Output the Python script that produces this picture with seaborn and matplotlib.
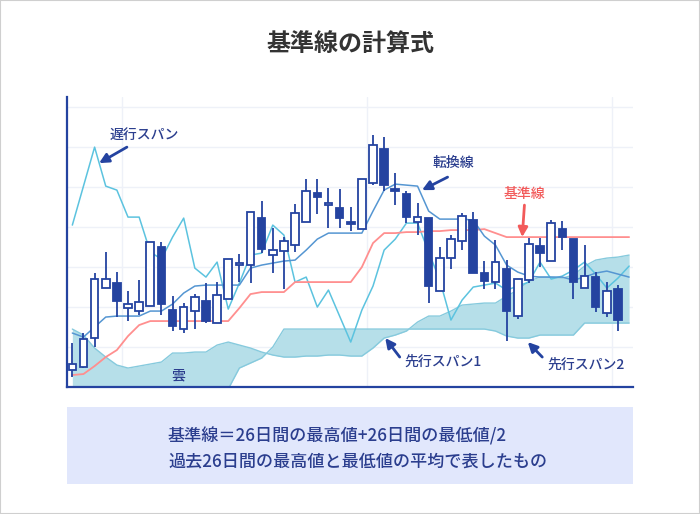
import numpy as np
import pandas as pd
import matplotlib
matplotlib.use("Agg")
import matplotlib.pyplot as plt
from matplotlib.patches import Rectangle
import seaborn as sns

# ローソク足データ（始値・終値・高値・安値）
opens = [17, 20, 49, 99, 104, 79, 76, 81, 140, 77,
         58, 76, 86, 64, 88, 122, 122, 169, 132, 136,
         142, 165, 194, 182, 179, 165, 158, 204, 238, 198,
         193, 165, 169, 96, 129, 146, 167, 114, 105, 118,
         71, 107, 141, 126, 158, 148, 99, 110, 74, 98]
closes = [23, 48, 108, 108, 86, 83, 85, 145, 83, 61,
          80, 90, 66, 92, 128, 124, 175, 138, 137, 146,
          174, 196, 190, 184, 169, 163, 208, 242, 202, 196,
          170, 170, 101, 129, 148, 171, 114, 106, 125, 76,
          108, 143, 134, 164, 150, 105, 111, 80, 96, 67]
highs = [44, 54, 114, 135, 115, 96, 107, 145, 145, 91,
         84, 93, 104, 105, 128, 133, 175, 186, 159, 150,
         183, 208, 208, 199, 198, 180, 208, 252, 250, 214,
         196, 184, 169, 140, 152, 174, 175, 126, 147, 127,
         108, 149, 149, 167, 166, 148, 142, 115, 105, 102]
lows = [10, 19, 40, 99, 70, 66, 72, 81, 72, 56,
        54, 58, 64, 64, 88, 105, 104, 134, 114, 98,
        135, 165, 173, 159, 159, 156, 158, 202, 196, 182,
        164, 152, 84, 96, 118, 137, 114, 98, 98, 46,
        68, 104, 120, 126, 137, 88, 99, 75, 70, 56]

# 各ライン（51本分）
tenkan = [54, 50, 60, 70, 71, 71, 71, 76, 76, 83,
          94, 101, 102, 102, 102, 102, 119, 122, 124, 126,
          127, 137, 148, 154, 154, 154, 154, 176, 197, 203,
          202, 201, 176, 168, 168, 168, 167, 151, 142, 122,
          115, 111, 110, 110, 110, 107, 110, 114, 116, 113,
          110]
kijun = [12, 13, 21, 30, 37, 51, 62, 66, 66, 66,
         66, 66, 66, 66, 66, 79, 93, 95, 95, 95,
         105, 105, 105, 105, 105, 105, 120, 144, 154, 154,
         155, 155, 156, 156, 157, 157, 157, 158, 154, 150,
         150, 150, 150, 150, 150, 150, 150, 150, 150, 150,
         150]
chikou = [162, 201, 240, 201, 197, 170, 170, 135, 128, 150,
          169, 119, 110, 125, 78, 104, 132, 134, 162, 152,
          105, 110, 80, 97, 71, 45, 77, 101, 137, 148,
          164, 164, 135, 107, 67, 87, 100, 102, 104, 97,
          101, 105, 125, 108, 111, 117, 125, 113, 99, 109,
          121]
span1 = [58, 52, 39, 30, 22, 19, 21, 23, 25, 34,
         34, 35, 35, 42, 45, 42, 39, 35, 32, 30,
         30, 31, 31, 32, 32, 31, 31, 39, 49, 52,
         56, 65, 71, 71, 76, 82, 83, 84, 84, 91,
         97, 106, 110, 110, 109, 112, 121, 127, 129, 130,
         132]
span2 = [-15, -15, -15, -15, -15, -15, -15, -15, -15, -15,
         -15, -15, -15, -15, -2, 19, 24, 29, 40, 58,
         58, 58, 58, 58, 58, 58, 58, 58, 58, 58,
         58, 58, 58, 58, 58, 58, 58, 58, 56, 51,
         49, 49, 52, 52, 52, 52, 64, 64, 64, 64,
         64]

candles = pd.DataFrame({"open": opens, "close": closes, "high": highs, "low": lows})
candles["i"] = np.arange(len(candles))
lines = pd.DataFrame({"tenkan": tenkan, "kijun": kijun, "chikou": chikou,
                      "span1": span1, "span2": span2})
lines["i"] = np.arange(len(lines))

navy = "#2443a0"
text_blue = "#2b3e8e"

sns.set_theme(style="white")
plt.rcParams["font.family"] = ["Noto Sans CJK JP", "DejaVu Sans"]

fig = plt.figure(figsize=(7, 5.14), dpi=100)
ax = fig.add_axes([0.0957, 0.247, 0.8086, 0.564])

# グリッド
for g in [40, 80, 120, 160, 200, 240, 280]:
    ax.axhline(g, color="#eef1f8", lw=1, zorder=0)
for g in [4.5, 26.5, 48.5]:
    ax.axvline(g, color="#eef1f8", lw=1, zorder=0)

# 雲
ax.fill_between(lines["i"], lines["span1"], lines["span2"], color="#b6dfe9", lw=0, zorder=1)
sns.lineplot(data=lines, x="i", y="span1", ax=ax, color="#86cadd", lw=1, zorder=2)
sns.lineplot(data=lines, x="i", y="span2", ax=ax, color="#86cadd", lw=1, zorder=2)

# ライン
sns.lineplot(data=lines, x="i", y="chikou", ax=ax, color="#5cc3df", lw=1.1, zorder=3)
sns.lineplot(data=lines, x="i", y="kijun", ax=ax, color="#ff8f8f", lw=1.3, zorder=3)
sns.lineplot(data=lines, x="i", y="tenkan", ax=ax, color="#5596d2", lw=1.1, zorder=3)

# ローソク足
up = candles["close"] >= candles["open"]
ax.vlines(candles["i"], candles["low"], candles["high"], color=navy, lw=1.3, zorder=4)
body_bottom = np.minimum(candles["open"], candles["close"])
body_h = (candles["close"] - candles["open"]).abs()
ax.bar(candles["i"][up], body_h[up], bottom=body_bottom[up], width=0.68,
       facecolor="white", edgecolor=navy, lw=1.3, zorder=5)
ax.bar(candles["i"][~up], body_h[~up], bottom=body_bottom[~up], width=0.68,
       facecolor=navy, edgecolor=navy, lw=1.3, zorder=5)

ax.set_xlim(-0.48, 50.35)
ax.set_ylim(0, 290)
ax.set_xticks([])
ax.set_yticks([])
ax.set_xlabel("")
ax.set_ylabel("")
for s in ["top", "right"]:
    ax.spines[s].set_visible(False)
for s in ["left", "bottom"]:
    ax.spines[s].set_color(navy)
    ax.spines[s].set_linewidth(1.6)

# 注記
arrow = dict(arrowstyle="-|>", color=navy, lw=2, mutation_scale=14, shrinkA=0, shrinkB=0)
ax.text(6.5, 252, "遅行スパン", color=text_blue, fontsize=10, fontweight="medium",
        ha="center", va="center")
ax.annotate("", xy=(2.4, 224), xytext=(4.9, 240), arrowprops=arrow, zorder=6)
ax.text(34.2, 224, "転換線", color=text_blue, fontsize=10, fontweight="medium",
        ha="center", va="center")
ax.annotate("", xy=(31.4, 197), xytext=(33.7, 210), arrowprops=arrow, zorder=6)
ax.text(40.6, 193, "基準線", color="#f25a5a", fontsize=10, fontweight="medium",
        ha="center", va="center")
ax.annotate("", xy=(40.4, 150), xytext=(40.6, 182),
            arrowprops=dict(arrow, color="#f25a5a"), zorder=6)
ax.text(29.8, 25, "先行スパン1", color=text_blue, fontsize=10, fontweight="medium",
        ha="left", va="center")
ax.annotate("", xy=(28.1, 49), xytext=(29.4, 30), arrowprops=arrow, zorder=6)
ax.text(42.7, 22, "先行スパン2", color=text_blue, fontsize=10, fontweight="medium",
        ha="left", va="center")
ax.annotate("", xy=(40.9, 45), xytext=(42.2, 30), arrowprops=arrow, zorder=6)
ax.text(9.5, 12, "雲", color=text_blue, fontsize=10, fontweight="medium",
        ha="center", va="center")

# タイトル
fig.text(0.5, 0.912, "基準線の計算式", ha="center", va="center", fontsize=17.3,
         fontweight="bold", color="#333333")

# 説明ボックス
fig.patches.append(Rectangle((0.0957, 0.0584), 0.8086, 0.1498, transform=fig.transFigure,
                             facecolor="#e1e7fc", edgecolor="none", zorder=0))
fig.text(0.24, 0.1518, "基準線＝26日間の最高値+26日間の最低値/2", ha="left", va="center",
         fontsize=12.3, fontweight="medium", color=text_blue)
fig.text(0.24, 0.1031, "過去26日間の最高値と最低値の平均で表したもの", ha="left", va="center",
         fontsize=12.3, fontweight="medium", color=text_blue)

# 外枠
fig.patches.append(Rectangle((0, 0), 1, 1, transform=fig.transFigure, fill=False,
                             edgecolor="#cfcfcf", lw=1.5))

fig.savefig("out.png", dpi=100)
